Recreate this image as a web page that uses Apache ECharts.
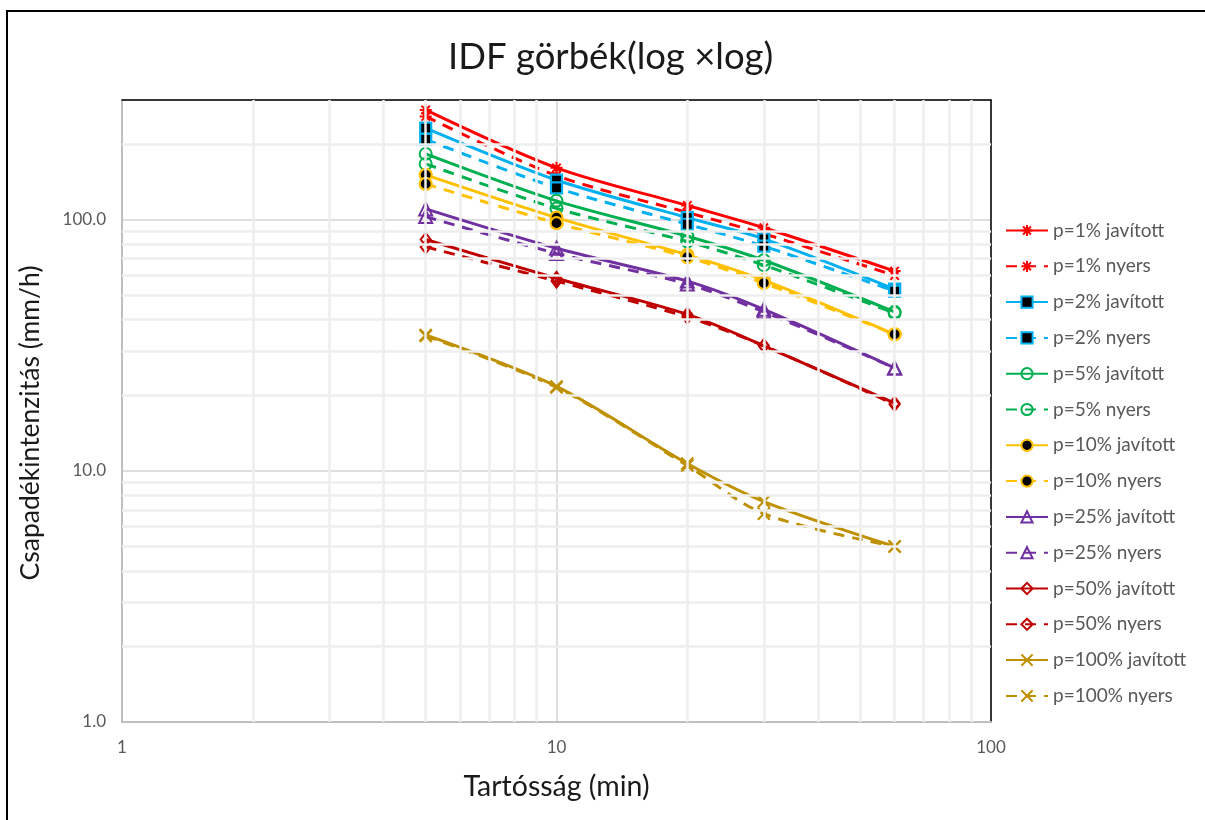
<!DOCTYPE html>
<html>
<head>
<meta charset="utf-8">
<script src="https://cdn.jsdelivr.net/npm/echarts@6/dist/echarts.min.js"></script>
<style>
  html, body { margin: 0; padding: 0; background: #fff; }
  #chart { width: 1205px; height: 820px; }
</style>
</head>
<body>
<div id="chart"></div>
<script>
// Durations (min)
const durations = [5, 10, 20, 30, 60];

// Rainfall intensity (mm/h) per return probability, corrected (javított) and raw (nyers)
const p1J   = [274, 161, 114, 93, 62.5];
const p1N   = [258, 150, 107, 88, 60];
const p2J   = [232, 144, 102, 84, 53];
const p2N   = [209, 134, 96, 78.5, 52];
const p5J   = [183, 119, 86, 69, 43];
const p5N   = [167, 111, 82, 66, 42.5];
const p10J  = [151, 102, 72.5, 57.5, 35];
const p10N  = [139, 97, 71, 56, 35];
const p25J  = [110.5, 77, 57, 44, 25.7];
const p25N  = [103, 73.5, 55.5, 43, 25.7];
const p50J  = [83.5, 58.5, 42, 31.5, 18.6];
const p50N  = [78, 57, 41, 31.5, 18.4];
const p100J = [34.8, 21.7, 10.7, 7.55, 5.0];
const p100N = [34.5, 21.5, 10.5, 6.75, 5.0];

// Minor gridline values for both log axes
const xMinorTicks = [2, 3, 4, 5, 6, 7, 8, 9, 20, 30, 40, 50, 60, 70, 80, 90];
const yMinorTicks = [2, 3, 4, 5, 6, 7, 8, 9, 20, 30, 40, 50, 60, 70, 80, 90, 200];

const ASTERISK = 'path://M0,-6L0,6M-6,0L6,0M-4.2,-4.2L4.2,4.2M-4.2,4.2L4.2,-4.2';
const CROSS = 'path://M-5,-5L5,5M-5,5L5,-5';
const CLEAR = 'rgba(255,255,255,0)';

const defs = [
  { name: 'p=1% javított',   data: p1J,   color: '#FF0000', dash: false, sym: 'asterisk' },
  { name: 'p=1% nyers',      data: p1N,   color: '#FF0000', dash: true,  sym: 'asterisk' },
  { name: 'p=2% javított',   data: p2J,   color: '#00B0F0', dash: false, sym: 'square' },
  { name: 'p=2% nyers',      data: p2N,   color: '#00B0F0', dash: true,  sym: 'square' },
  { name: 'p=5% javított',   data: p5J,   color: '#00B050', dash: false, sym: 'ring' },
  { name: 'p=5% nyers',      data: p5N,   color: '#00B050', dash: true,  sym: 'ring' },
  { name: 'p=10% javított',  data: p10J,  color: '#FFC000', dash: false, sym: 'dot' },
  { name: 'p=10% nyers',     data: p10N,  color: '#FFC000', dash: true,  sym: 'dot' },
  { name: 'p=25% javított',  data: p25J,  color: '#7030A0', dash: false, sym: 'triangle' },
  { name: 'p=25% nyers',     data: p25N,  color: '#7030A0', dash: true,  sym: 'triangle' },
  { name: 'p=50% javított',  data: p50J,  color: '#C00000', dash: false, sym: 'diamond' },
  { name: 'p=50% nyers',     data: p50N,  color: '#C00000', dash: true,  sym: 'diamond' },
  { name: 'p=100% javított', data: p100J, color: '#BF9000', dash: false, sym: 'cross' },
  { name: 'p=100% nyers',    data: p100N, color: '#BF9000', dash: true,  sym: 'cross' }
];

function markerStyle(kind, color) {
  switch (kind) {
    case 'asterisk': return { symbol: ASTERISK, symbolSize: 12, itemStyle: { color: CLEAR, borderColor: color, borderWidth: 2 } };
    case 'square':   return { symbol: 'rect', symbolSize: 11, itemStyle: { color: '#000', borderColor: color, borderWidth: 2.2 } };
    case 'ring':     return { symbol: 'circle', symbolSize: 12, itemStyle: { color: CLEAR, borderColor: color, borderWidth: 2 } };
    case 'dot':      return { symbol: 'circle', symbolSize: 12, itemStyle: { color: '#000', borderColor: color, borderWidth: 2.2 } };
    case 'triangle': return { symbol: 'triangle', symbolSize: 13, itemStyle: { color: CLEAR, borderColor: color, borderWidth: 2 } };
    case 'diamond':  return { symbol: 'diamond', symbolSize: [10, 13], itemStyle: { color: CLEAR, borderColor: color, borderWidth: 2 } };
    default:         return { symbol: CROSS, symbolSize: 12, itemStyle: { color: CLEAR, borderColor: color, borderWidth: 2.2 } };
  }
}

const dataSeries = defs.map(d => Object.assign({
  name: d.name,
  type: 'line',
  smooth: 0.3,
  z: 3,
  showAllSymbol: true,
  data: durations.map((t, i) => [t, d.data[i]]),
  lineStyle: { color: d.color, width: 3, type: d.dash ? [11, 8] : 'solid' },
  color: d.color
}, markerStyle(d.sym, d.color)));

// Minor grid drawn as mark lines on an empty helper series
const minorGrid = {
  name: '_grid',
  type: 'line',
  data: [],
  z: 1,
  silent: true,
  markLine: {
    silent: true,
    symbol: 'none',
    animation: false,
    label: { show: false },
    lineStyle: { color: '#eeeeee', width: 2.5, type: 'solid' },
    data: xMinorTicks.map(v => ({ xAxis: v })).concat(yMinorTicks.map(v => ({ yAxis: v })))
  }
};

// Plain black frame lines on the top and right of the plot area
const frameAxis = {
  type: 'log', logBase: 10,
  axisLine: { show: true, lineStyle: { color: '#000', width: 1.5 } },
  axisTick: { show: false },
  axisLabel: { show: false },
  splitLine: { show: false }
};

const chart = echarts.init(document.getElementById('chart'), null, { renderer: 'canvas' });
chart.setOption({
  animation: false,
  backgroundColor: '#fff',
  textStyle: { fontFamily: 'Lato' },
  title: {
    text: 'IDF görbék(log ×log)',
    left: 443,
    top: 34,
    textStyle: { fontFamily: 'Lato', fontSize: 36.5, fontWeight: 'normal', color: '#1a1a1a' }
  },
  graphic: [{
    type: 'rect',
    z: 100,
    shape: { x: 7, y: 11, width: 1210, height: 820 },
    style: { fill: 'none', stroke: '#000', lineWidth: 2 }
  }],
  grid: {
    left: 122, top: 100, right: 214, bottom: 98,
    show: true, borderColor: '#000', borderWidth: 0, backgroundColor: '#fff'
  },
  legend: {
    orient: 'vertical',
    left: 1000,
    top: 216,
    itemWidth: 42,
    itemHeight: 14,
    itemGap: 16.8,
    textStyle: { fontFamily: 'Lato', fontSize: 19, color: '#595959' },
    data: defs.map(d => d.name)
  },
  xAxis: [{
    type: 'log',
    logBase: 10,
    min: 1,
    max: 100,
    name: 'Tartósság (min)',
    nameLocation: 'middle',
    nameGap: 50,
    nameTextStyle: { fontFamily: 'Lato', fontSize: 28.5, color: '#1a1a1a' },
    axisLine: { show: true, lineStyle: { color: '#bfbfbf', width: 2 } },
    axisTick: { show: false },
    axisLabel: { color: '#595959', fontSize: 17, margin: 17, formatter: v => String(Math.round(v)) },
    splitLine: { show: true, lineStyle: { color: '#d4d4d4', width: 1.5 } }
  }, Object.assign({ position: 'top', min: 1, max: 100 }, frameAxis)],
  yAxis: [{
    type: 'log',
    logBase: 10,
    min: 1,
    max: 300,
    name: 'Csapadékintenzitás (mm/h)',
    nameLocation: 'middle',
    nameGap: 78,
    nameTextStyle: { fontFamily: 'Lato', fontSize: 26.5, color: '#1a1a1a', padding: [0, 24, 0, 0] },
    axisLine: { show: true, lineStyle: { color: '#bfbfbf', width: 2 } },
    axisTick: { show: false },
    axisLabel: { color: '#595959', fontSize: 17, margin: 16, showMaxLabel: false, formatter: v => Number(v).toFixed(1) },
    splitLine: { show: true, lineStyle: { color: '#d4d4d4', width: 1.5 } }
  }, Object.assign({ position: 'right', min: 1, max: 300 }, frameAxis)],
  series: [minorGrid].concat(dataSeries)
});
</script>
</body>
</html>
